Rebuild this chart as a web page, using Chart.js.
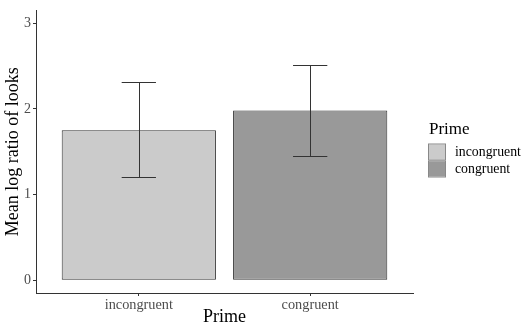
<!DOCTYPE html>
<html>
<head>
<meta charset="utf-8">
<script src="https://cdn.jsdelivr.net/npm/chart.js@4/dist/chart.umd.min.js"></script>
<style>
html,body{margin:0;padding:0;background:#fff;}
#wrap{width:529px;height:330px;position:relative;}
</style>
</head>
<body>
<div id="wrap"><canvas id="c" width="529" height="330"></canvas></div>
<script>
const categories = ['incongruent', 'congruent'];
const means = [1.75, 1.98];
const errLow = [1.20, 1.45];
const errHigh = [2.31, 2.51];
const yTicks = [0, 1, 2, 3];
const legendTitle = 'Prime';
const xTitle = 'Prime';
const yTitle = 'Mean log ratio of looks';
const fills = ['#cbcbcb', '#999999'];

const SERIF = '"Liberation Serif", "Times New Roman", serif';

const errorBarPlugin = {
  id: 'errbars',
  afterDatasetsDraw(chart) {
    const {ctx, scales: {x, y}} = chart;
    ctx.save();
    ctx.strokeStyle = '#333333';
    ctx.lineWidth = 1;
    categories.forEach((c, i) => {
      const cx = x.getPixelForValue(i + 1);
      const half = (x.getPixelForValue(1.1) - x.getPixelForValue(1.0));
      const yl = y.getPixelForValue(errLow[i]);
      const yh = y.getPixelForValue(errHigh[i]);
      ctx.beginPath();
      ctx.moveTo(Math.round(cx) + 0.5, yl);
      ctx.lineTo(Math.round(cx) + 0.5, yh);
      ctx.moveTo(cx - half, Math.round(yl) + 0.5);
      ctx.lineTo(cx + half, Math.round(yl) + 0.5);
      ctx.moveTo(cx - half, Math.round(yh) + 0.5);
      ctx.lineTo(cx + half, Math.round(yh) + 0.5);
      ctx.stroke();
    });
    ctx.restore();
  }
};

const legendPlugin = {
  id: 'customLegend',
  afterDraw(chart) {
    const {ctx, chartArea} = chart;
    const lx = chartArea.right + 15;
    ctx.save();
    ctx.fillStyle = '#000';
    ctx.font = '17px ' + SERIF;
    ctx.textBaseline = 'middle';
    ctx.textAlign = 'left';
    ctx.fillText(legendTitle, lx + 1, 130);
    categories.forEach((c, i) => {
      const top = 143.5 + i * 17;
      ctx.fillStyle = fills[i];
      ctx.fillRect(lx + 1, top + 1, 16, 15);
      ctx.strokeStyle = '#888';
      ctx.lineWidth = 1;
      ctx.strokeRect(lx + 0.5, top + 0.5, 17, 16);
      ctx.fillStyle = '#000';
      ctx.font = '13.8px ' + SERIF;
      ctx.fillText(c, lx + 27, top + 9);
    });
    ctx.restore();
  }
};

new Chart(document.getElementById('c'), {
  type: 'bar',
  data: {
    datasets: [{
      data: means.map((v, i) => ({x: i + 1, y: v})),
      backgroundColor: fills,
      borderColor: '#333333',
      borderWidth: 1,
      borderSkipped: false,
      barPercentage: 1,
      categoryPercentage: 0.9
    }]
  },
  options: {
    responsive: false,
    animation: false,
    devicePixelRatio: 1,
    layout: {padding: {left: 0, right: 116, top: 5, bottom: 0}},
    plugins: {legend: {display: false}, tooltip: {enabled: false}},
    scales: {
      x: {
        type: 'linear',
        offset: false,
        min: 0.4, max: 2.6,
        afterBuildTicks: (s) => { s.ticks = categories.map((c, i) => ({value: i + 1})); },
        afterFit: (s) => { s.height = 37; },
        grid: {display: true, offset: false, drawOnChartArea: false, drawTicks: true, tickLength: 3, tickColor: '#333333'},
        border: {display: true, color: '#333333', width: 1},
        ticks: {
          autoSkip: false, maxRotation: 0, padding: 1,
          color: '#4d4d4d', font: {family: SERIF, size: 14.3},
          callback: (v) => categories[Math.round(v) - 1]
        },
        title: {display: true, text: xTitle, color: '#000', font: {family: SERIF, size: 18, lineHeight: 1.2}, padding: {top: 0, bottom: 2}}
      },
      y: {
        type: 'linear',
        min: -0.15, max: 3.15,
        afterBuildTicks: (s) => { s.ticks = yTicks.map(v => ({value: v})); },
        afterFit: (s) => { s.width = 36; },
        grid: {display: true, drawOnChartArea: false, drawTicks: true, tickLength: 3, tickColor: '#333333'},
        border: {display: true, color: '#333333', width: 1},
        ticks: {padding: 2, color: '#4d4d4d', font: {family: SERIF, size: 14}},
        title: {display: true, text: yTitle, color: '#000', font: {family: SERIF, size: 18, lineHeight: 1.2}, padding: {top: 2, bottom: 0}}
      }
    }
  },
  plugins: [errorBarPlugin, legendPlugin]
});
</script>
</body>
</html>
